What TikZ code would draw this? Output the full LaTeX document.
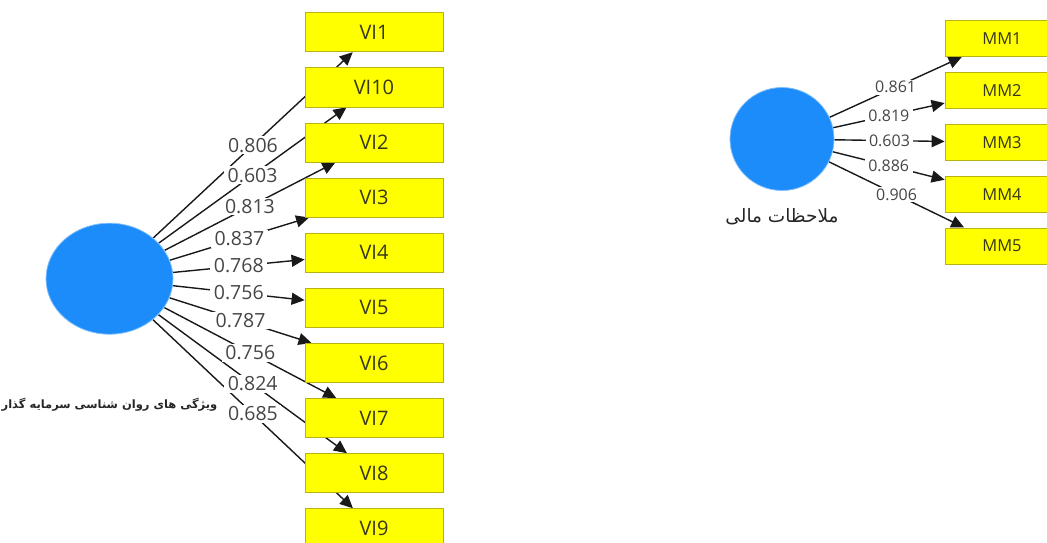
\documentclass[tikz,border=0pt]{standalone}
\usepackage{fontspec}
\setmainfont{Open Sans}
\newfontfamily\farsifont[Script=Arabic]{DejaVu Sans}
\TeXXeTstate=1
\usetikzlibrary{positioning,arrows.meta,backgrounds}
\usetikzlibrary{shapes.geometric}

\definecolor{latentblue}{RGB}{28,140,250}
\definecolor{itemyellow}{RGB}{255,255,0}
\definecolor{itemedge}{RGB}{185,178,20}
\definecolor{itemtext}{RGB}{55,55,25}
\definecolor{loadtext}{RGB}{70,70,70}

\begin{document}
\begin{tikzpicture}[x=1pt,y=1pt,
  latent/.style={ellipse,fill=latentblue,draw=latentblue!55!white,line width=0.8pt,inner sep=0pt},
  item/.style={rectangle,draw=itemedge,fill=itemyellow,line width=0.8pt,
    minimum width=138pt,minimum height=39pt,inner sep=0pt,
    text=itemtext,font=\fontsize{20}{20}\selectfont},
  mitem/.style={item,minimum width=114pt,minimum height=36pt,font=\fontsize{16.5}{16.5}\selectfont},
  load/.style={-{Triangle[length=13pt,width=12pt]},line width=1.4pt,draw=black!90},
  lbl/.style={fill=white,inner xsep=3.5pt,inner ysep=1.5pt,text=loadtext,font=\fontsize{19.5}{19.5}\selectfont},
  slbl/.style={lbl,font=\fontsize{16}{16}\selectfont},
  farsi/.style={inner sep=0pt,text=black!85}]
\useasboundingbox (0,0) rectangle (1047,-543);
\clip (0,0) rectangle (1047,-543);

% investor psychology
\node[latent,minimum width=127pt,minimum height=111pt] (psy) at (109.5,-278.7) {};
\node[farsi,below=63pt of psy] (psyname)
  {\farsifont\bfseries\fontsize{11.5}{11.5}\selectfont\beginR ویژگی های روان شناسی سرمایه گذار\endR};

\node[item] (VI1) at (374,-32.3) {VI1};
\node[item,below=15.3pt of VI1] (VI10) {VI10};
\node[item,below=15.3pt of VI10] (VI2) {VI2};
\node[item,below=15.3pt of VI2] (VI3) {VI3};
\node[item,below=15.3pt of VI3] (VI4) {VI4};
\node[item,below=15.3pt of VI4] (VI5) {VI5};
\node[item,below=15.3pt of VI5] (VI6) {VI6};
\node[item,below=15.3pt of VI6] (VI7) {VI7};
\node[item,below=15.3pt of VI7] (VI8) {VI8};
\node[item,below=15.3pt of VI8] (VI9) {VI9};

% financial considerations
\node[latent,minimum width=104pt,minimum height=103pt] (fin) at (782,-139) {};
\node[farsi,below=17pt of fin] (finname)
  {\farsifont\fontsize{18.5}{18.5}\selectfont\beginR ملاحظات مالی\endR};

\node[mitem] (MM1) at (1002,-38.7) {MM1};
\node[mitem,below=15pt of MM1] (MM2) {MM2};
\node[mitem,below=15pt of MM2] (MM3) {MM3};
\node[mitem,below=15pt of MM3] (MM4) {MM4};
\node[mitem,below=15pt of MM4] (MM5) {MM5};

% loadings
\begin{scope}[on background layer]
\foreach \s/\t in {psy/VI1,psy/VI10,psy/VI2,psy/VI3,psy/VI4,psy/VI5,psy/VI6,psy/VI7,psy/VI8,psy/VI9,
  fin/MM1,fin/MM2,fin/MM3,fin/MM4,fin/MM5}
  \draw[load] (\s) -- (\t);
\end{scope}
\foreach \t/\v in {VI1/0.806,VI10/0.603,VI2/0.813,VI3/0.837,VI4/0.768,VI5/0.756,VI6/0.787,VI7/0.756,VI8/0.824,VI9/0.685}
  \path (psy) -- node[lbl] {\v} (\t);
\foreach \t/\v in {MM1/0.861,MM2/0.819,MM3/0.603,MM4/0.886,MM5/0.906}
  \path (fin) -- node[slbl] {\v} (\t);
\end{tikzpicture}
\end{document}
